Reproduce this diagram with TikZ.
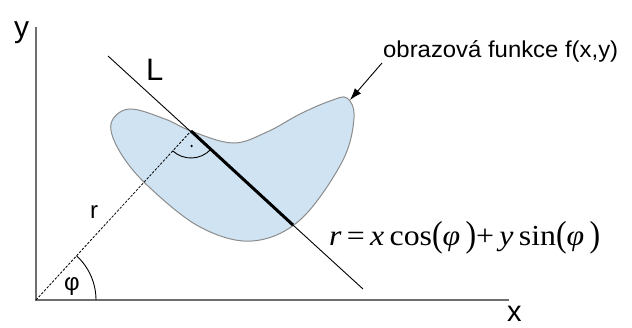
\documentclass[tikz,border=0pt]{standalone}
\usepackage{fontspec}
\usepackage{graphicx}
\setmainfont{Liberation Sans}
\newfontfamily\eqfont{Liberation Serif}
\usetikzlibrary{arrows.meta,calc}
\definecolor{blobfill}{RGB}{207,227,242}
\definecolor{blobedge}{RGB}{140,140,140}
\definecolor{axisgray}{RGB}{110,110,110}
\tikzset{
  axisline/.style={draw=axisgray,line width=1.5pt},
  thinline/.style={draw=black,line width=0.9pt},
  dashline/.style={draw=black,line width=0.8pt,dash pattern=on 2.5pt off 1.5pt},
  biglabel/.style={inner sep=0pt,font=\fontsize{30}{30}\selectfont},
  midlabel/.style={inner sep=0pt,font=\fontsize{24}{24}\selectfont},
}
\newcommand{\bigparen}[1]{\raisebox{-1.5pt}{\scalebox{1}[1.25]{#1}}}
\begin{document}
\begin{tikzpicture}[x=1pt,y=-1pt]
\useasboundingbox (0,0) rectangle (632,327);
% key points
\coordinate (O) at (36,300);
\coordinate (ytop) at (36,27);
\coordinate (xend) at (509,300);
\coordinate (Ltop) at (108,56);
\coordinate (Lbot) at (363,289);
\coordinate (F) at (191,131);
\coordinate (T) at (293,225);
\coordinate (tip) at (350,100);
% blob
\draw[fill=blobfill,draw=blobedge,line width=1pt] plot[smooth cycle,tension=0.6] coordinates {
 (111,124) (129,109) (165,119) (191,131) (233,143) (267,132) (300,114) (330,101) (347,98)
 (354,118) (342,162) (300,220) (252,241) (200,227) (148,186) (120,152)};
% axes
\draw[axisline] (ytop) -- (O) -- (xend);
% line L
\draw[thinline] (Ltop) -- (Lbot);
\draw[draw=black,line width=3pt] (F) -- (T);
% dashed r
\draw[dashline] (O) -- (F);
% angle phi
\draw[thinline] ($(O)+(60,0)$) arc[start angle=0,end angle=-47.5,radius=60];
% right angle
\draw[thinline] ($(F)+(42.7:27)$) arc[start angle=42.7,end angle=132.5,radius=27];
\fill ($(F)+(87.6:15)$) circle[radius=1.3];
% labels
\node[biglabel,anchor=base west] (ylab) at (14,37) {y};
\node[inner sep=0pt,anchor=base west,font=\fontsize{29}{29}\selectfont] (xlab) at (507,321) {x};
\node[inner sep=0pt,anchor=base west,font=\fontsize{31}{31}\selectfont] (Llab) at (146,80) {L};
\node[midlabel,anchor=base west] (rlab) at (90,218) {r};
\node[midlabel,anchor=base west] (philab) at (64,290) {φ};
\node[inner sep=0pt,anchor=base west,font=\fontsize{23}{23}\selectfont] (ann) at (383,57)
 {\resizebox{235pt}{\height}{obrazová funkce f(x,y)}};
\node[inner sep=0pt,anchor=base west,font=\fontsize{29}{29}\eqfont] (eq) at (329,245)
 {\resizebox{271pt}{\height}{\itshape r\upshape\,=\,\itshape x\upshape\,cos\bigparen{(}\itshape φ\upshape\,\bigparen{)}+\,\itshape y\upshape\,sin\bigparen{(}\itshape φ\upshape\,\bigparen{)}}};
\draw[thinline,-{Latex[length=12pt,width=8pt]}] (382,63) -- (tip);
\end{tikzpicture}
\end{document}
